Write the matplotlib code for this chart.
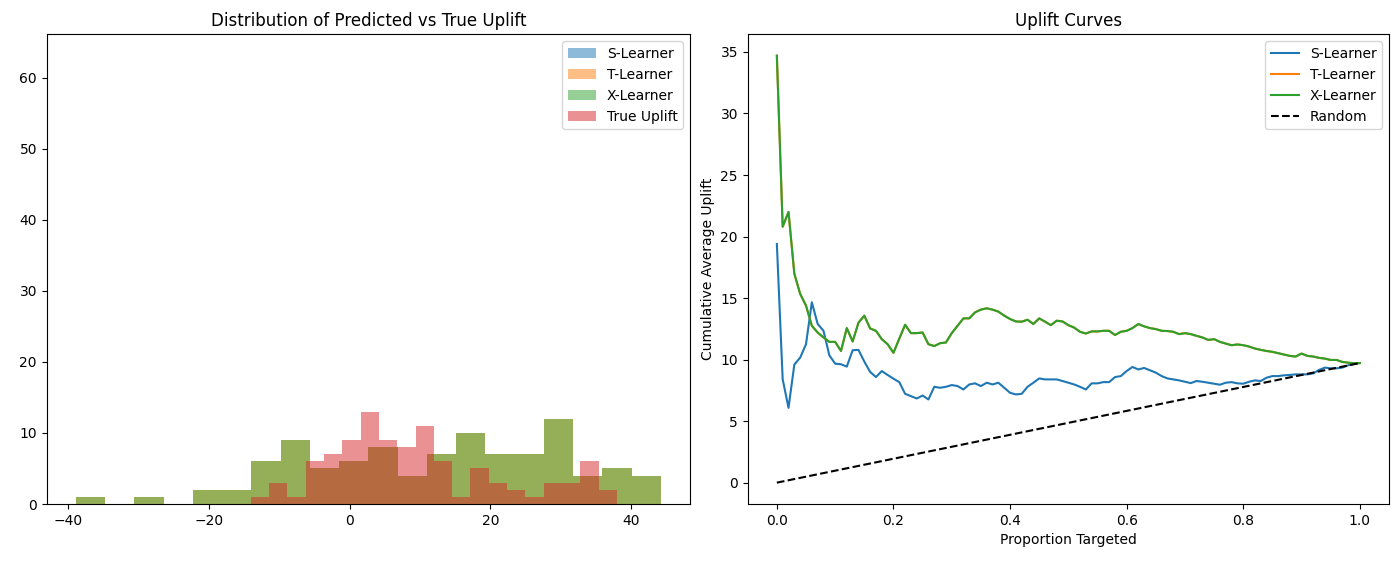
import numpy as np
import matplotlib
matplotlib.use("Agg")
import matplotlib.pyplot as plt

# ---------------- Histogram data ----------------
learner_labels = ["S-Learner", "T-Learner", "X-Learner", "True Uplift"]

# S-Learner predictions collapse into a single (extremely narrow) bin
s_learner_edges = [9.700, 9.7001]
s_learner_counts = [63]

# T-Learner and X-Learner predictions are identical
tx_start, tx_width, tx_nbins = -38.86, 4.152, 20
tx_counts = [1, 0, 1, 0, 2, 2, 6, 9, 5, 6, 8, 4, 7, 10, 7, 7, 12, 4, 5, 4]

true_start, true_width, true_nbins = -14.04, 2.6, 20
true_counts = [1, 3, 1, 6, 7, 9, 13, 9, 8, 11, 6, 1, 5, 3, 2, 1, 3, 3, 6, 2]

# ---------------- Uplift curve data ----------------
proportion = np.round(np.arange(101) * 0.01, 2)

s_learner_curve = [
    19.4, 8.4, 6.08, 9.6, 10.16, 11.25, 14.66, 12.9, 12.34, 10.35,
    9.67, 9.62, 9.43, 10.76, 10.79, 9.84, 9.0, 8.58, 9.07, 8.75,
    8.45, 8.17, 7.22, 7.03, 6.84, 7.08, 6.76, 7.79, 7.71, 7.79,
    7.93, 7.85, 7.57, 7.98, 8.07, 7.85, 8.12, 7.98, 8.12, 7.71,
    7.3, 7.17, 7.22, 7.79, 8.12, 8.47, 8.39, 8.39, 8.39, 8.26,
    8.12, 7.98, 7.79, 7.57, 8.07, 8.07, 8.17, 8.17, 8.58, 8.66,
    9.07, 9.4, 9.2, 9.32, 9.13, 8.94, 8.66, 8.47, 8.39, 8.31,
    8.2, 8.09, 8.26, 8.2, 8.12, 8.04, 7.96, 8.12, 8.17, 8.07,
    8.04, 8.2, 8.31, 8.26, 8.53, 8.66, 8.66, 8.72, 8.75, 8.8,
    8.8, 8.8, 8.88, 9.16, 9.35, 9.29, 9.29, 9.35, 9.54, 9.67,
    9.72,
]

x_learner_curve = [
    34.7, 20.8, 22.0, 16.98, 15.34, 14.39, 12.75, 12.2, 11.8, 11.44,
    11.44, 10.7, 12.56, 11.47, 13.0, 13.57, 12.53, 12.34, 11.66, 11.25,
    10.55, 11.7, 12.83, 12.15, 12.15, 12.2, 11.25, 11.1, 11.33, 11.39,
    12.15, 12.75, 13.35, 13.35, 13.84, 14.06, 14.17, 14.06, 13.9, 13.57,
    13.3, 13.1, 13.08, 13.24, 12.89, 13.35, 13.08, 12.8, 13.16, 13.1,
    12.8, 12.6, 12.26, 12.12, 12.29, 12.29, 12.34, 12.34, 12.0, 12.26,
    12.34, 12.56, 12.89, 12.7, 12.56, 12.48, 12.34, 12.32, 12.26, 12.07,
    12.15, 12.07, 11.93, 11.8, 11.6, 11.66, 11.44, 11.3, 11.17, 11.23,
    11.17, 11.06, 10.9, 10.79, 10.7, 10.63, 10.52, 10.41, 10.3, 10.25,
    10.49, 10.3, 10.25, 10.14, 10.08, 9.97, 9.97, 9.81, 9.75, 9.7,
    9.72,
]
t_learner_curve = list(x_learner_curve)
overall_uplift = 9.72

colors = ["#1f77b4", "#ff7f0e", "#2ca02c", "#d62728"]

fig = plt.figure(figsize=(14, 5.65), dpi=100)
W, H = 1400.0, 565.0
ax1 = fig.add_axes([46.7 / W, 1 - 504 / H, (690 - 46.7) / W, (504 - 34.3) / H])
ax2 = fig.add_axes([747.7 / W, 1 - 504 / H, (1389 - 747.7) / W, (504 - 34.3) / H])

# ---- Left: histograms ----
tx_edges = tx_start + tx_width * np.arange(tx_nbins + 1)
tx_centers = (tx_edges[:-1] + tx_edges[1:]) / 2
true_edges = true_start + true_width * np.arange(true_nbins + 1)
true_centers = (true_edges[:-1] + true_edges[1:]) / 2
s_centers = [(s_learner_edges[0] + s_learner_edges[1]) / 2]

ax1.hist(s_centers, bins=s_learner_edges, weights=s_learner_counts,
         alpha=0.5, color=colors[0], label=learner_labels[0], linewidth=0)
ax1.hist(tx_centers, bins=tx_edges, weights=tx_counts,
         alpha=0.5, color=colors[1], label=learner_labels[1])
ax1.hist(tx_centers, bins=tx_edges, weights=tx_counts,
         alpha=0.5, color=colors[2], label=learner_labels[2])
ax1.hist(true_centers, bins=true_edges, weights=true_counts,
         alpha=0.5, color=colors[3], label=learner_labels[3])
ax1.set_title("Distribution of Predicted vs True Uplift")
ax1.legend(loc="upper right")

# ---- Right: uplift curves ----
ax2.plot(proportion, s_learner_curve, color=colors[0], label="S-Learner")
ax2.plot(proportion, t_learner_curve, color=colors[1], label="T-Learner")
ax2.plot(proportion, x_learner_curve, color=colors[2], label="X-Learner")
ax2.plot([0, 1], [0, overall_uplift], "k--", label="Random")
ax2.set_title("Uplift Curves")
ax2.set_xlabel("Proportion Targeted")
ax2.set_ylabel("Cumulative Average Uplift")
ax2.legend(loc="upper right")

plt.savefig("out.png", dpi=100)
